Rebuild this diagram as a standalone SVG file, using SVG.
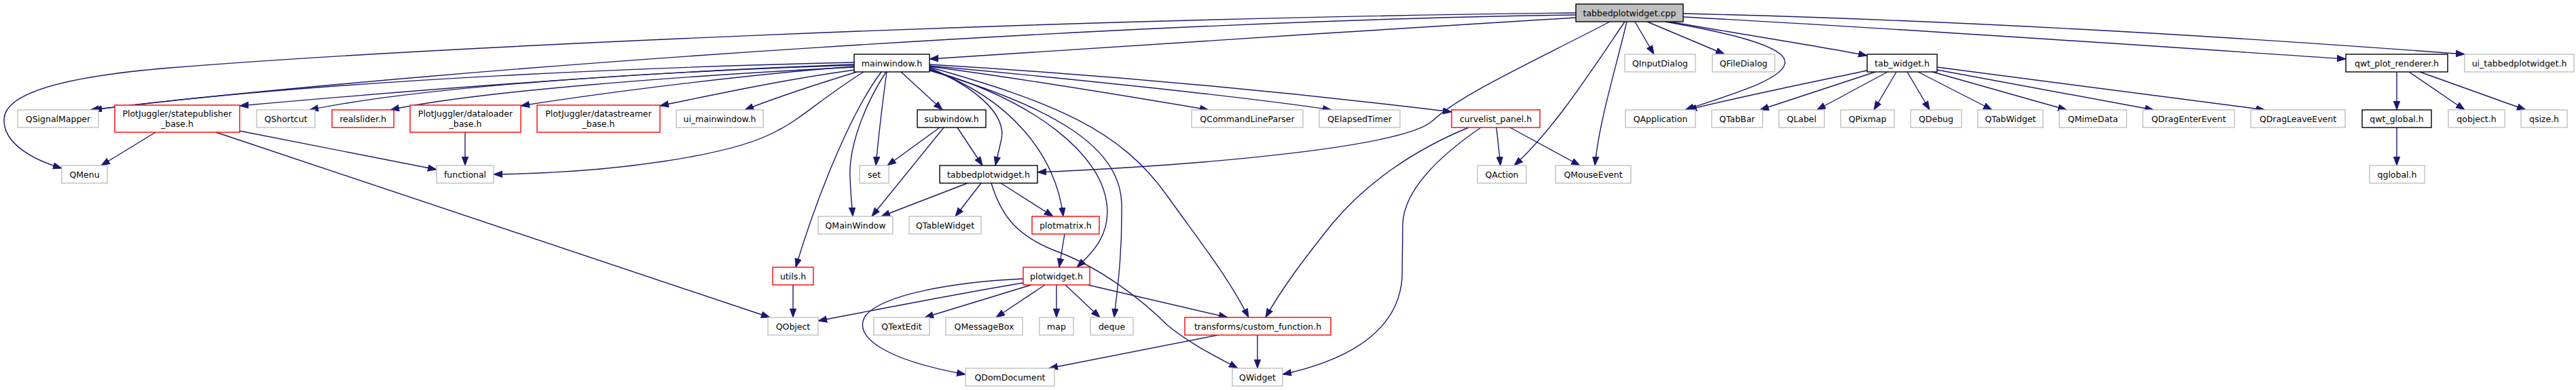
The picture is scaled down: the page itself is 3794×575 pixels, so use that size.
<svg xmlns="http://www.w3.org/2000/svg" width="3794" height="575" viewBox="0 0 3794 575">
<style>
text{font-family:"DejaVu Sans","Liberation Sans",sans-serif;font-size:12.5px;fill:#000;text-anchor:middle}
rect{fill:#fff;stroke-width:1.4}
.g rect{stroke:#bfbfbf}
.r rect{stroke:#ff0000}
.k rect{stroke:#000}
.root rect{stroke:#000;fill:#bfbfbf}
#edges path{fill:none;stroke:#191970;stroke-width:1.4;marker-end:url(#a)}
</style>
<defs>
<marker id="a" markerUnits="userSpaceOnUse" markerWidth="15" markerHeight="11" refX="13" refY="5" orient="auto">
<path d="M0,0.3 L13,5 L0,9.7 z" fill="#191970" stroke="#191970" stroke-width="1"/>
</marker>
</defs>
<rect x="0" y="0" width="3794" height="575" style="fill:#fff;stroke:none"/>
<g id="edges">
<path d="M2321,26 C2000,45 1700,66 1369,87"/>
<path d="M2321,22 C1700,30 700,95 133,162"/>
<path d="M2321,19 C1500,28 600,72 250,100 C80,114 8,140 6,175 C4,212 50,236 91,248"/>
<path d="M2371,32 C2250,95 2150,140 2110,178 C2070,215 1800,242 1528,254"/>
<path d="M2393,32 C2340,110 2285,195 2230,244"/>
<path d="M2396,32 C2380,100 2355,180 2349,244"/>
<path d="M2408,32 L2436,80"/>
<path d="M2426,32 L2540,80"/>
<path d="M2460,32 C2560,50 2680,68 2750,82"/>
<path d="M2452,32 C2545,48 2630,68 2629,92 C2628,118 2540,142 2482,162"/>
<path d="M2479,25 C2800,42 3200,70 3455,87"/>
<path d="M2479,20 C2900,30 3300,55 3630,80"/>
<path d="M2750,104 C2650,125 2560,143 2486,162"/>
<path d="M2762,106 L2592,162"/>
<path d="M2780,106 L2676,162"/>
<path d="M2793,106 L2760,162"/>
<path d="M2809,106 L2842,162"/>
<path d="M2825,106 L2934,162"/>
<path d="M2846,106 L3044,162"/>
<path d="M2853,103 L3172,162"/>
<path d="M2853,99 L3336,162"/>
<path d="M3530,106 L3530,162"/>
<path d="M3548,106 L3630,162"/>
<path d="M3564,106 L3720,162"/>
<path d="M3530,188 L3530,244"/>
<path d="M1258,92 C1000,98 500,115 137,162"/>
<path d="M1258,95 C1000,104 700,125 353,156"/>
<path d="M1258,96 C950,106 620,128 456,162"/>
<path d="M1258,99 C1000,112 700,135 575,162"/>
<path d="M1258,98 C1100,110 900,135 767,156"/>
<path d="M1259,103 C1150,118 1050,140 972,156"/>
<path d="M1262,106 C1200,125 1140,145 1097,162"/>
<path d="M1272,106 C1210,145 1180,175 1146,192 C1080,230 900,255 727,257"/>
<path d="M1298,106 C1250,170 1200,300 1172,394"/>
<path d="M1305,106 C1270,160 1250,220 1252,262 C1253,290 1255,305 1256,319"/>
<path d="M1306,106 C1300,150 1294,200 1290,244"/>
<path d="M1327,106 L1388,162"/>
<path d="M1369,100 C1440,130 1482,170 1475,205 C1471,222 1468,235 1466,244"/>
<path d="M1369,102 C1490,145 1555,230 1566,319"/>
<path d="M1369,103 C1530,150 1622,230 1630,300 C1636,345 1610,372 1586,394"/>
<path d="M1369,104 C1560,160 1650,220 1652,300 C1653,380 1645,430 1641,468"/>
<path d="M1369,99 C1550,150 1650,190 1720,290 C1770,360 1810,410 1839,468"/>
<path d="M1369,98 C1500,115 1650,140 1780,162"/>
<path d="M1369,95 C1700,115 1950,142 2138,165"/>
<path d="M1369,97 C1600,118 1850,145 1961,162"/>
<path d="M1384,188 L1307,244"/>
<path d="M1390,188 L1284,319"/>
<path d="M1410,188 L1447,244"/>
<path d="M1425,270 L1298,319"/>
<path d="M1445,270 L1407,319"/>
<path d="M1460,270 C1475,320 1500,350 1560,372 C1620,395 1680,440 1720,480 C1760,512 1800,530 1823,543"/>
<path d="M1474,270 L1551,319"/>
<path d="M1568,345 L1560,394"/>
<path d="M1168,420 L1168,468"/>
<path d="M1507,411 C1400,416 1300,435 1275,465 C1255,495 1300,530 1422,552"/>
<path d="M1507,417 C1400,435 1300,455 1205,473"/>
<path d="M1519,420 L1362,468"/>
<path d="M1539,420 L1467,468"/>
<path d="M1556,420 L1556,468"/>
<path d="M1569,420 L1620,468"/>
<path d="M1602,420 L1808,468"/>
<path d="M1794,494 L1545,543"/>
<path d="M1852,494 L1852,543"/>
<path d="M2204,188 L2210,244"/>
<path d="M2224,188 L2327,244"/>
<path d="M2163,188 C2080,222 2010,272 1962,330 C1922,380 1890,422 1864,468"/>
<path d="M2181,188 C2120,230 2068,280 2066,330 L2065,410 C2060,480 2000,528 1889,552"/>
<path d="M229,195 L149,244"/>
<path d="M318,195 L1134,468"/>
<path d="M353,193 L643,250"/>
<path d="M685,195 L685,244"/>
</g>
<g id="n_root" class="root"><rect x="2321" y="6" width="158" height="26"/><text x="2400" y="23.5">tabbedplotwidget.cpp</text></g>
<g id="n_mainwindow" class="k"><rect x="1258" y="80" width="111" height="26"/><text x="1313.5" y="97.5">mainwindow.h</text></g>
<g id="n_QInputDialog" class="g"><rect x="2393" y="80" width="104" height="26"/><text x="2445" y="97.5">QInputDialog</text></g>
<g id="n_QFileDialog" class="g"><rect x="2522" y="80" width="92" height="26"/><text x="2568" y="97.5">QFileDialog</text></g>
<g id="n_tab_widget" class="k"><rect x="2750" y="80" width="103" height="26"/><text x="2801.5" y="97.5">tab_widget.h</text></g>
<g id="n_qwt_plot_renderer" class="k"><rect x="3455" y="80" width="150" height="26"/><text x="3530" y="97.5">qwt_plot_renderer.h</text></g>
<g id="n_ui_tabbedplotwidget" class="g"><rect x="3630" y="80" width="161" height="26"/><text x="3710.5" y="97.5">ui_tabbedplotwidget.h</text></g>
<g id="n_QSignalMapper" class="g"><rect x="26" y="162" width="119" height="26"/><text x="85.5" y="179.5">QSignalMapper</text></g>
<g id="n_statepublisher" class="r"><rect x="169" y="155" width="184" height="40"/><text x="261" y="172">PlotJuggler/statepublisher</text><text x="261" y="187">_base.h</text></g>
<g id="n_QShortcut" class="g"><rect x="378" y="162" width="86" height="26"/><text x="421" y="179.5">QShortcut</text></g>
<g id="n_realslider" class="r"><rect x="489" y="162" width="91" height="26"/><text x="534.5" y="179.5">realslider.h</text></g>
<g id="n_dataloader" class="r"><rect x="604" y="155" width="163" height="40"/><text x="685.5" y="172">PlotJuggler/dataloader</text><text x="685.5" y="187">_base.h</text></g>
<g id="n_datastreamer" class="r"><rect x="791" y="155" width="181" height="40"/><text x="881.5" y="172">PlotJuggler/datastreamer</text><text x="881.5" y="187">_base.h</text></g>
<g id="n_ui_mainwindow" class="g"><rect x="996" y="162" width="128" height="26"/><text x="1060" y="179.5">ui_mainwindow.h</text></g>
<g id="n_subwindow" class="k"><rect x="1351" y="162" width="101" height="26"/><text x="1401.5" y="179.5">subwindow.h</text></g>
<g id="n_QCommandLineParser" class="g"><rect x="1755" y="162" width="164" height="26"/><text x="1837" y="179.5">QCommandLineParser</text></g>
<g id="n_QElapsedTimer" class="g"><rect x="1943" y="162" width="119" height="26"/><text x="2002.5" y="179.5">QElapsedTimer</text></g>
<g id="n_curvelist_panel" class="r"><rect x="2138" y="162" width="130" height="26"/><text x="2203" y="179.5">curvelist_panel.h</text></g>
<g id="n_QApplication" class="g"><rect x="2394" y="162" width="103" height="26"/><text x="2445.5" y="179.5">QApplication</text></g>
<g id="n_QTabBar" class="g"><rect x="2521" y="162" width="75" height="26"/><text x="2558.5" y="179.5">QTabBar</text></g>
<g id="n_QLabel" class="g"><rect x="2620" y="162" width="67" height="26"/><text x="2653.5" y="179.5">QLabel</text></g>
<g id="n_QPixmap" class="g"><rect x="2711" y="162" width="79" height="26"/><text x="2750.5" y="179.5">QPixmap</text></g>
<g id="n_QDebug" class="g"><rect x="2814" y="162" width="75" height="26"/><text x="2851.5" y="179.5">QDebug</text></g>
<g id="n_QTabWidget" class="g"><rect x="2913" y="162" width="96" height="26"/><text x="2961" y="179.5">QTabWidget</text></g>
<g id="n_QMimeData" class="g"><rect x="3033" y="162" width="99" height="26"/><text x="3082.5" y="179.5">QMimeData</text></g>
<g id="n_QDragEnterEvent" class="g"><rect x="3156" y="162" width="135" height="26"/><text x="3223.5" y="179.5">QDragEnterEvent</text></g>
<g id="n_QDragLeaveEvent" class="g"><rect x="3315" y="162" width="139" height="26"/><text x="3384.5" y="179.5">QDragLeaveEvent</text></g>
<g id="n_qwt_global" class="k"><rect x="3479" y="162" width="102" height="26"/><text x="3530" y="179.5">qwt_global.h</text></g>
<g id="n_qobject" class="g"><rect x="3606" y="162" width="83" height="26"/><text x="3647.5" y="179.5">qobject.h</text></g>
<g id="n_qsize" class="g"><rect x="3713" y="162" width="68" height="26"/><text x="3747" y="179.5">qsize.h</text></g>
<g id="n_QMenu" class="g"><rect x="91" y="244" width="67" height="26"/><text x="124.5" y="261.5">QMenu</text></g>
<g id="n_functional" class="g"><rect x="643" y="244" width="84" height="26"/><text x="685" y="261.5">functional</text></g>
<g id="n_set" class="g"><rect x="1266" y="244" width="43" height="26"/><text x="1287.5" y="261.5">set</text></g>
<g id="n_tabbedplotwidget_h" class="k"><rect x="1384" y="244" width="144" height="26"/><text x="1456" y="261.5">tabbedplotwidget.h</text></g>
<g id="n_QAction" class="g"><rect x="2176" y="244" width="72" height="26"/><text x="2212" y="261.5">QAction</text></g>
<g id="n_QMouseEvent" class="g"><rect x="2291" y="244" width="111" height="26"/><text x="2346.5" y="261.5">QMouseEvent</text></g>
<g id="n_qglobal" class="g"><rect x="3490" y="244" width="81" height="26"/><text x="3530.5" y="261.5">qglobal.h</text></g>
<g id="n_QMainWindow" class="g"><rect x="1205" y="319" width="110" height="26"/><text x="1260" y="336.5">QMainWindow</text></g>
<g id="n_QTableWidget" class="g"><rect x="1339" y="319" width="106" height="26"/><text x="1392" y="336.5">QTableWidget</text></g>
<g id="n_plotmatrix" class="r"><rect x="1520" y="319" width="99" height="26"/><text x="1569.5" y="336.5">plotmatrix.h</text></g>
<g id="n_utils" class="r"><rect x="1138" y="394" width="60" height="26"/><text x="1168" y="411.5">utils.h</text></g>
<g id="n_plotwidget" class="r"><rect x="1507" y="394" width="98" height="26"/><text x="1556" y="411.5">plotwidget.h</text></g>
<g id="n_QObject" class="g"><rect x="1131" y="468" width="74" height="26"/><text x="1168" y="485.5">QObject</text></g>
<g id="n_QTextEdit" class="g"><rect x="1287" y="468" width="82" height="26"/><text x="1328" y="485.5">QTextEdit</text></g>
<g id="n_QMessageBox" class="g"><rect x="1393" y="468" width="113" height="26"/><text x="1449.5" y="485.5">QMessageBox</text></g>
<g id="n_map" class="g"><rect x="1531" y="468" width="50" height="26"/><text x="1556" y="485.5">map</text></g>
<g id="n_deque" class="g"><rect x="1606" y="468" width="63" height="26"/><text x="1637.5" y="485.5">deque</text></g>
<g id="n_custom_function" class="r"><rect x="1745" y="468" width="215" height="26"/><text x="1852.5" y="485.5">transforms/custom_function.h</text></g>
<g id="n_QDomDocument" class="g"><rect x="1422" y="543" width="131" height="26"/><text x="1487.5" y="560.5">QDomDocument</text></g>
<g id="n_QWidget" class="g"><rect x="1815" y="543" width="74" height="26"/><text x="1852" y="560.5">QWidget</text></g>
</svg>
